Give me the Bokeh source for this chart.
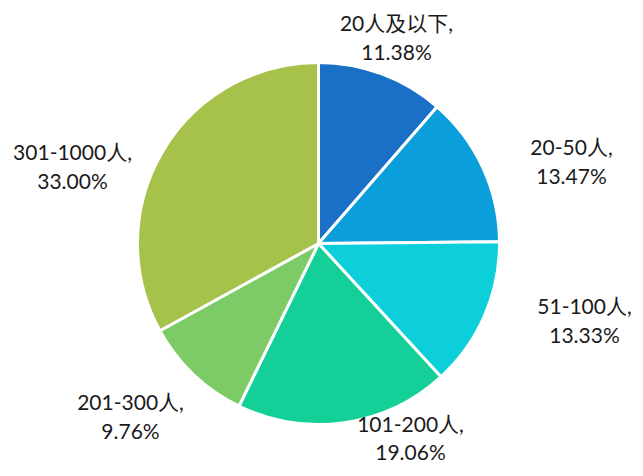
import math
from bokeh.plotting import figure
from bokeh.models import Range1d, ColumnDataSource
from bokeh.core.properties import value
from bokeh.embed import file_html
from bokeh.resources import INLINE

# ---- data ----
categories = ["20人及以下", "20-50人", "51-100人", "101-200人", "201-300人", "301-1000人"]
shares = [11.38, 13.47, 13.33, 19.06, 9.76, 33.00]
colors = ["#1A6FC6", "#0A9FDA", "#0DCFD9", "#14CF98", "#7DCB66", "#A6C24B"]

# ---- layout ----
W, H = 635, 468
cx, cy_top = 318, 243         # pie centre (screen px from top-left)
radius = 181
# label centres of first line (screen x, screen y from top)
label_pos = [(396, 22), (571, 146), (584, 305), (410, 423), (130, 401), (72, 151)]
line_gaps = [29, 29, 29, 28, 29, 29]
font = value("Lato, 'Noto Sans CJK SC', sans-serif")

p = figure(width=W, height=H, output_backend="svg", toolbar_location=None,
           x_range=Range1d(0, W), y_range=Range1d(0, H),
           min_border=0, outline_line_color=None)
p.axis.visible = False
p.grid.visible = False

total = sum(shares)
starts, ends = [], []
acc = 0.0
for s in shares:
    starts.append(math.pi / 2 - acc / total * 2 * math.pi)
    acc += s
    ends.append(math.pi / 2 - acc / total * 2 * math.pi)

src = ColumnDataSource(dict(start=starts, end=ends, color=colors,
                            x=[cx] * len(shares), y=[H - cy_top] * len(shares)))
p.wedge(x="x", y="y", radius=radius, radius_units="screen",
        start_angle="start", end_angle="end", direction="clock",
        fill_color="color", line_color="white", line_width=3, source=src)

lx = [pos[0] for pos in label_pos]
ly1 = [H - pos[1] for pos in label_pos]
ly2 = [H - pos[1] - g for pos, g in zip(label_pos, line_gaps)]
line1 = [c + "," for c in categories]
line2 = [f"{s:.2f}%" for s in shares]

p.text(x=lx, y=ly1, text=line1, text_align="center", text_baseline="middle",
       text_font=font, text_font_size="21px", text_color="#1a1a1a")
p.text(x=lx, y=ly2, text=line2, text_align="center", text_baseline="middle",
       text_font=font, text_font_size="21px", text_color="#1a1a1a")

open("out.html", "w").write(file_html(p, INLINE))
